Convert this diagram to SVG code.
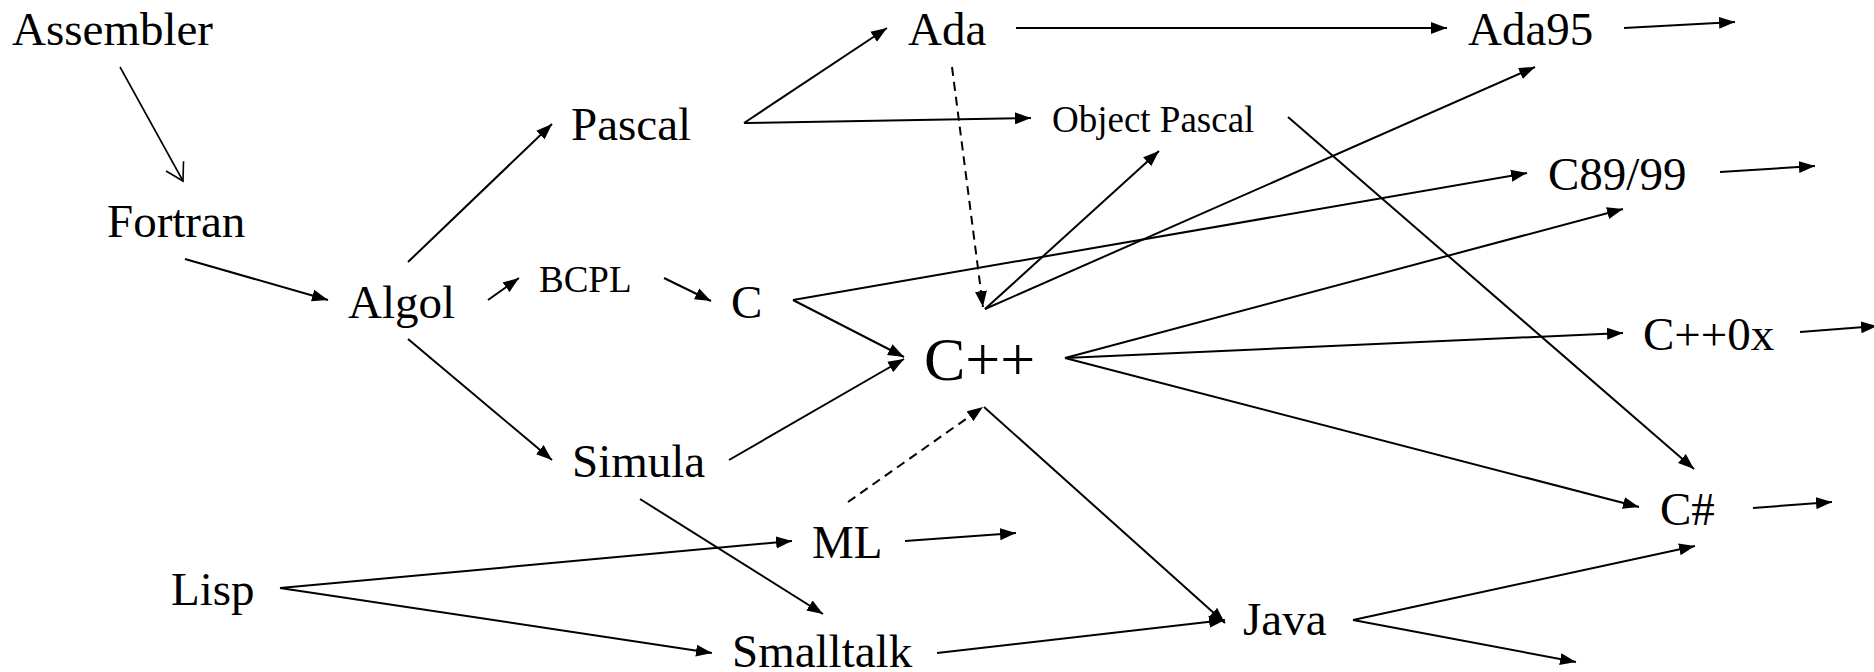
<svg xmlns="http://www.w3.org/2000/svg" width="1874" height="672" viewBox="0 0 1874 672">
<defs>
<style>
text{font-family:"Liberation Serif","Times New Roman",serif;fill:#000}
.n{font-size:47px}
.s{font-size:37px}
.b{font-size:62px}
.e line{stroke:#000;stroke-width:2;fill:none;marker-end:url(#ah)}
.e line.d{stroke-dasharray:9 6}
.e line.o{stroke-width:1.6;marker-end:url(#oh)}
</style>
<marker id="ah" markerUnits="userSpaceOnUse" markerWidth="17" markerHeight="13" refX="16" refY="6.5" orient="auto"><path d="M0,0.5 L16,6.5 L0,12.5 z" fill="#000"/></marker>
<marker id="oh" markerUnits="userSpaceOnUse" markerWidth="24" markerHeight="24" refX="20" refY="12" orient="auto"><path d="M3,2 L20,12 L3,22" fill="none" stroke="#000" stroke-width="1.6"/></marker>
</defs>
<rect width="1874" height="672" fill="#fff"/>
<g id="edges" class="e">
<line class="o" x1="120" y1="67" x2="183" y2="181"/>
<line x1="185" y1="259" x2="328" y2="300"/>
<line x1="408" y1="262" x2="552" y2="124"/>
<line x1="488" y1="300" x2="519" y2="278"/>
<line x1="408" y1="339" x2="552" y2="460"/>
<line x1="664" y1="278" x2="711" y2="301"/>
<line x1="744" y1="123" x2="887" y2="28"/>
<line x1="744" y1="123" x2="1031" y2="118"/>
<line x1="1016" y1="28" x2="1447" y2="28"/>
<line class="d" x1="952" y1="67" x2="983" y2="307"/>
<line x1="1624" y1="28" x2="1735" y2="22"/>
<line x1="793" y1="300" x2="1527" y2="173"/>
<line x1="793" y1="300" x2="904" y2="357"/>
<line x1="985" y1="309" x2="1159" y2="151"/>
<line x1="985" y1="309" x2="1535" y2="67"/>
<line x1="1065" y1="358" x2="1623" y2="209"/>
<line x1="1065" y1="358" x2="1623" y2="333"/>
<line x1="1065" y1="358" x2="1639" y2="507"/>
<line x1="1288" y1="117" x2="1694" y2="469"/>
<line x1="1720" y1="172" x2="1815" y2="166"/>
<line x1="1800" y1="332" x2="1877" y2="326"/>
<line x1="1753" y1="508" x2="1832" y2="502"/>
<line x1="729" y1="460" x2="904" y2="359"/>
<line x1="640" y1="499" x2="823" y2="614"/>
<line class="d" x1="848" y1="502" x2="983" y2="407"/>
<line x1="984" y1="407" x2="1225" y2="623"/>
<line x1="905" y1="541" x2="1016" y2="533"/>
<line x1="280" y1="588" x2="792" y2="541"/>
<line x1="280" y1="588" x2="712" y2="653"/>
<line x1="937" y1="653" x2="1225" y2="620"/>
<line x1="1353" y1="620" x2="1695" y2="546"/>
<line x1="1353" y1="620" x2="1576" y2="662"/>
</g>
<g id="assembler"><text class="n" x="12" y="45">Assembler</text></g>
<g id="fortran"><text class="n" x="107" y="237">Fortran</text></g>
<g id="algol"><text class="n" x="348" y="318">Algol</text></g>
<g id="pascal"><text class="n" x="571" y="140">Pascal</text></g>
<g id="bcpl"><text class="s" x="539" y="292">BCPL</text></g>
<g id="c"><text class="n" x="731" y="318">C</text></g>
<g id="simula"><text class="n" x="572" y="477">Simula</text></g>
<g id="lisp"><text class="n" x="171" y="605">Lisp</text></g>
<g id="ml"><text class="n" x="812" y="558">ML</text></g>
<g id="smalltalk"><text class="n" x="732" y="667">Smalltalk</text></g>
<g id="ada"><text class="n" x="908" y="45">Ada</text></g>
<g id="objectpascal"><text class="s" x="1052" y="132">Object Pascal</text></g>
<g id="cpp"><text class="b" x="924" y="380">C++</text></g>
<g id="java"><text class="n" x="1243" y="635">Java</text></g>
<g id="ada95"><text class="n" x="1468" y="45">Ada95</text></g>
<g id="c8999"><text class="n" x="1548" y="190">C89/99</text></g>
<g id="cpp0x"><text class="n" x="1643" y="350">C++0x</text></g>
<g id="csharp"><text class="n" x="1660" y="525">C#</text></g>
</svg>
